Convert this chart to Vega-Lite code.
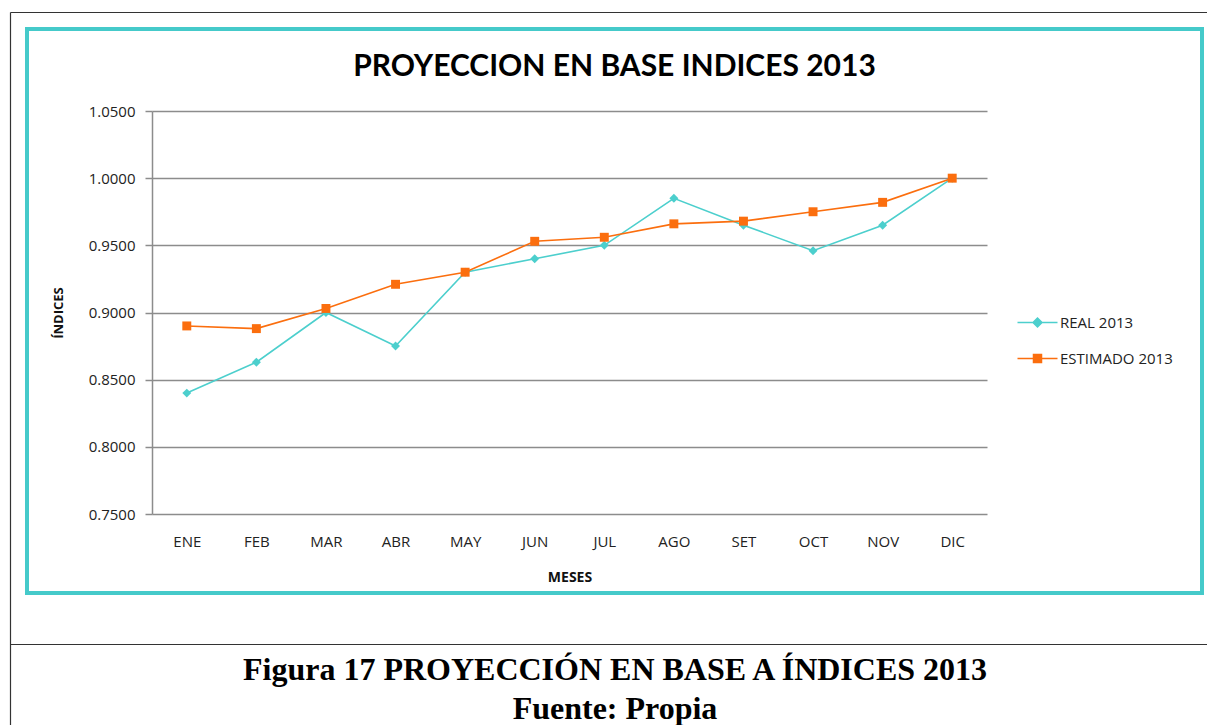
{
  "$schema": "https://vega.github.io/schema/vega-lite/v6.json",
  "background": "white",
  "padding": {"left": 10, "top": 12, "right": 0, "bottom": 0},
  "bounds": "flush",
  "spacing": 51,
  "config": {
    "font": "Open Sans"
  },
  "vconcat": [
    {
      "width": 1175,
      "height": 564,
      "view": {"stroke": "#45CACA", "strokeWidth": 4},
      "title": {
        "text": "PROYECCION EN BASE INDICES 2013",
        "font": "Lato",
        "fontSize": 30,
        "fontWeight": "bold",
        "color": "black",
        "anchor": "middle",
        "baseline": "alphabetic",
        "offset": -77
      },
      "data": {
        "values": [
          {"mes": "ENE", "serie": "REAL 2013", "indice": 0.840},
          {"mes": "FEB", "serie": "REAL 2013", "indice": 0.863},
          {"mes": "MAR", "serie": "REAL 2013", "indice": 0.900},
          {"mes": "ABR", "serie": "REAL 2013", "indice": 0.875},
          {"mes": "MAY", "serie": "REAL 2013", "indice": 0.930},
          {"mes": "JUN", "serie": "REAL 2013", "indice": 0.940},
          {"mes": "JUL", "serie": "REAL 2013", "indice": 0.950},
          {"mes": "AGO", "serie": "REAL 2013", "indice": 0.985},
          {"mes": "SET", "serie": "REAL 2013", "indice": 0.965},
          {"mes": "OCT", "serie": "REAL 2013", "indice": 0.946},
          {"mes": "NOV", "serie": "REAL 2013", "indice": 0.965},
          {"mes": "DIC", "serie": "REAL 2013", "indice": 1.000},
          {"mes": "ENE", "serie": "ESTIMADO 2013", "indice": 0.890},
          {"mes": "FEB", "serie": "ESTIMADO 2013", "indice": 0.888},
          {"mes": "MAR", "serie": "ESTIMADO 2013", "indice": 0.903},
          {"mes": "ABR", "serie": "ESTIMADO 2013", "indice": 0.921},
          {"mes": "MAY", "serie": "ESTIMADO 2013", "indice": 0.930},
          {"mes": "JUN", "serie": "ESTIMADO 2013", "indice": 0.953},
          {"mes": "JUL", "serie": "ESTIMADO 2013", "indice": 0.956},
          {"mes": "AGO", "serie": "ESTIMADO 2013", "indice": 0.966},
          {"mes": "SET", "serie": "ESTIMADO 2013", "indice": 0.968},
          {"mes": "OCT", "serie": "ESTIMADO 2013", "indice": 0.975},
          {"mes": "NOV", "serie": "ESTIMADO 2013", "indice": 0.982},
          {"mes": "DIC", "serie": "ESTIMADO 2013", "indice": 1.000}
        ]
      },
      "encoding": {
        "x": {
          "field": "mes",
          "type": "ordinal",
          "sort": ["ENE","FEB","MAR","ABR","MAY","JUN","JUL","AGO","SET","OCT","NOV","DIC"],
          "scale": {"type": "point", "padding": 0.5, "range": [125, 960]},
          "axis": {
            "title": "MESES",
            "offset": -79,
            "domain": false,
            "ticks": false,
            "grid": false,
            "labelAngle": 0,
            "labelFont": "Open Sans",
            "labelFontSize": 15,
            "labelColor": "#222222",
            "labelPadding": 20,
            "titleFont": "Open Sans",
            "titleFontSize": 14,
            "titleFontWeight": "bold",
            "titleColor": "#111111",
            "titlePadding": 21
          }
        },
        "y": {
          "field": "indice",
          "type": "quantitative",
          "scale": {"domain": [0.75, 1.05], "range": [485, 82], "zero": false, "nice": false},
          "axis": {
            "title": "ÍNDICES",
            "offset": -125,
            "values": [0.75, 0.8, 0.85, 0.9, 0.95, 1.0, 1.05],
            "format": ".4f",
            "grid": true,
            "gridColor": "#8C8C8C",
            "gridWidth": 1.5,
            "domain": true,
            "domainColor": "#8C8C8C",
            "domainWidth": 1.5,
            "ticks": true,
            "tickSize": 7,
            "tickColor": "#8C8C8C",
            "tickWidth": 1.5,
            "labelFont": "Open Sans",
            "labelFontSize": 15,
            "labelColor": "#222222",
            "labelPadding": 10,
            "titleFont": "Open Sans",
            "titleFontSize": 13,
            "titleFontWeight": "bold",
            "titleColor": "#111111",
            "titlePadding": 23
          }
        },
        "color": {
          "field": "serie",
          "type": "nominal",
          "scale": {"domain": ["REAL 2013", "ESTIMADO 2013"], "range": ["#4CCFCD", "#FB6E0E"]},
          "legend": {
            "orient": "none",
            "legendX": 998,
            "legendY": 286,
            "padding": 0,
            "title": null,
            "symbolSize": 100,
            "symbolStrokeWidth": 1.5,
            "labelFont": "Open Sans",
            "labelFontSize": 15,
            "labelColor": "#222222",
            "labelOffset": 20,
            "rowPadding": 20,
            "encode": {
              "symbols": {
                "update": {
                  "shape": {"signal": "datum.value === 'REAL 2013' ? 'M-3,0H5M0.1,0L1,-0.9L1.9,0L1,0.9Z' : 'M-3,0H5M0.2,-0.8H1.8V0.8H0.2Z'"},
                  "fill": {"signal": "scale('color', datum.value)"},
                  "stroke": {"signal": "scale('color', datum.value)"},
                  "strokeWidth": {"value": 1.5}
                }
              }
            }
          }
        }
      },
      "layer": [
        {"mark": {"type": "line", "strokeWidth": 1.6}},
        {
          "mark": {"type": "point", "filled": true, "opacity": 1, "size": 80},
          "encoding": {
            "shape": {"condition": {"test": "datum.serie === 'REAL 2013'", "value": "diamond"}, "value": "square"}
          }
        }
      ]
    },
    {
      "width": 1180,
      "height": 81,
      "view": {"stroke": null},
      "title": {
        "text": "Figura 17 PROYECCIÓN EN BASE A ÍNDICES 2013",
        "subtitle": "Fuente: Propia",
        "orient": "top",
        "anchor": "middle",
        "baseline": "alphabetic",
        "offset": -739,
        "dx": -2,
        "font": "Liberation Serif",
        "fontSize": 32,
        "fontWeight": "bold",
        "color": "black",
        "subtitleFont": "Liberation Serif",
        "subtitleFontSize": 32,
        "subtitleFontWeight": "bold",
        "subtitleColor": "black",
        "subtitlePadding": 7
      },
      "data": {"values": [{"a": 0.5, "b": 0.5}]},
      "layer": [
        {
          "mark": {"type": "point", "opacity": 0, "size": 1},
          "encoding": {
            "x": {
              "field": "a", "type": "quantitative",
              "scale": {"domain": [0, 1], "range": [-17, 1180], "zero": false, "nice": false},
              "axis": {"orient": "top", "offset": 0, "title": null, "labels": false, "ticks": false, "grid": false, "domain": true, "domainColor": "#333333", "domainWidth": 1.2}
            },
            "y": {
              "field": "b", "type": "quantitative",
              "scale": {"domain": [0, 1], "range": [81, -632], "zero": false, "nice": false},
              "axis": {"orient": "left", "offset": 17, "title": null, "labels": false, "ticks": false, "grid": false, "domain": true, "domainColor": "#333333", "domainWidth": 1.2}
            }
          }
        },
        {
          "mark": {"type": "point", "opacity": 0, "size": 1},
          "encoding": {
            "x": {
              "field": "a", "type": "quantitative",
              "scale": {"domain": [0, 1], "range": [-17, 1180], "zero": false, "nice": false},
              "axis": {"orient": "top", "offset": 632, "title": null, "labels": false, "ticks": false, "grid": false, "domain": true, "domainColor": "#333333", "domainWidth": 1.2}
            }
          }
        }
      ],
      "resolve": {"scale": {"x": "independent"}, "axis": {"x": "independent"}}
    }
  ]
}
